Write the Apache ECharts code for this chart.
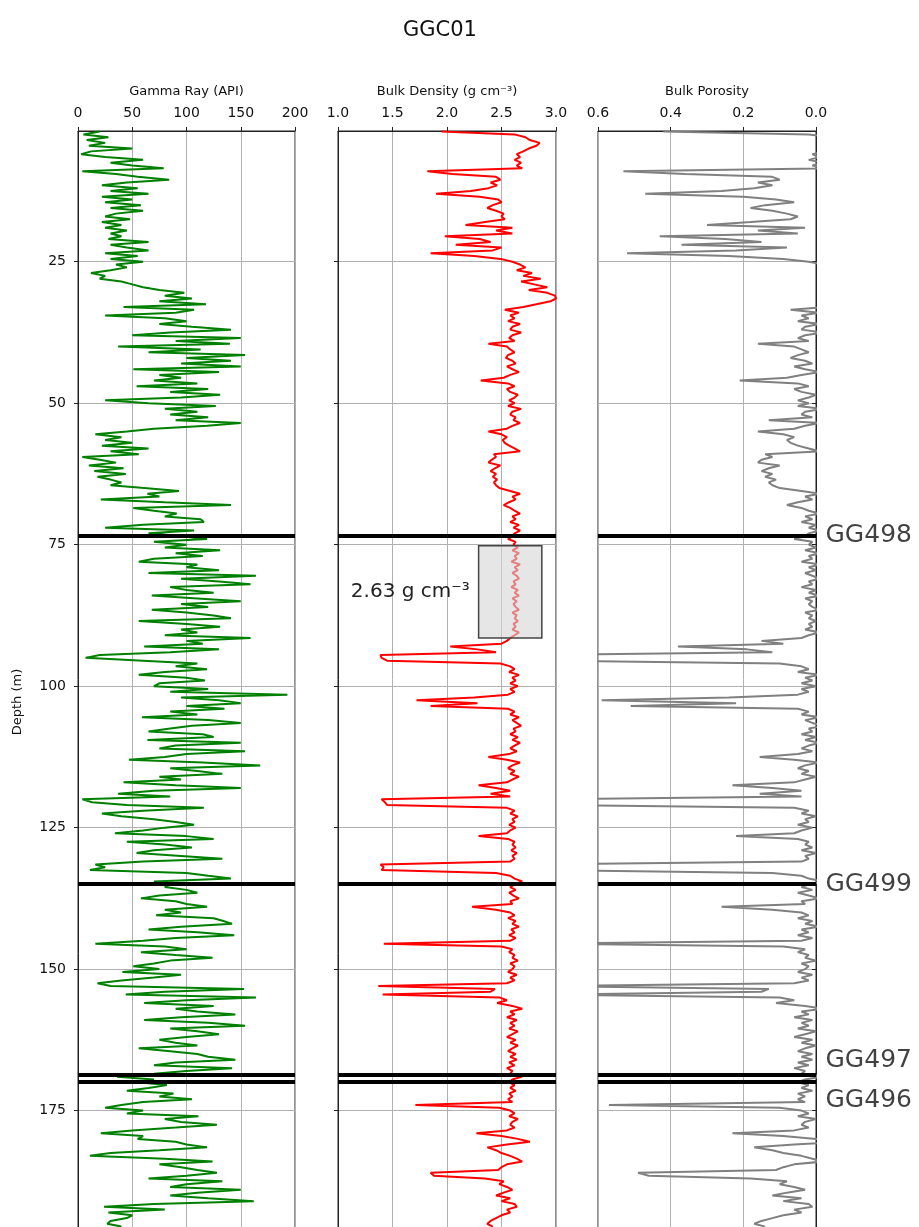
<!DOCTYPE html>
<html>
<head>
<meta charset="utf-8">
<title>GGC01</title>
<script src="https://cdn.jsdelivr.net/npm/echarts@6.0.0/dist/echarts.min.js"></script>
<style>
  html, body { margin: 0; padding: 0; background: #fff; }
  #chart { width: 919px; height: 1227px; }
</style>
</head>
<body>
<div id="chart"></div>
<script>
// log samples every 0.5 m, starting at 2.0 m
const depthStart = 2.0;
const depthStep = 0.5;

// Gamma ray (API)
const gammaRay = [
  20, 5, 28, 8, 25, 10, 50, 12, 3, 25,          // 2.0
  60, 30, 50, 79, 4, 35, 55, 84, 45, 22,        // 7.0
  55, 30, 65, 22, 50, 25, 58, 30, 60, 35,       // 12.0
  25, 48, 22, 40, 25, 45, 30, 40, 28, 65,       // 17.0
  30, 45, 65, 25, 55, 30, 60, 35, 45, 30,       // 22.0
  12, 25, 20, 40, 50, 60, 75, 98, 80, 105,      // 27.0
  75, 118, 42, 107, 90, 25, 80, 100, 75, 105,   // 32.0
  141, 85, 50, 150, 90, 140, 37, 113, 65, 154,  // 37.0
  100, 141, 95, 150, 51, 130, 75, 95, 70, 110,  // 42.0
  54, 120, 85, 131, 95, 25,                     // 47.0
  65, 127, 80, 110, 85, 120, 90, 150, 119, 70,  // 50.0
  45, 16, 40, 25, 50, 22, 65, 30, 56, 4,        // 55.0
  20, 35, 10, 42, 15, 44, 18, 30, 40, 30,       // 60.0
  61, 93, 64, 75, 21, 80, 141, 51, 70, 91,      // 65.0
  80, 113, 116, 60, 25, 107, 65, 95, 119, 70,   // 70.0
  100, 80, 131, 90, 115, 70, 56, 110, 100, 130, // 75.0
  65, 164, 95, 130, 159, 85, 100, 125, 68, 110, // 80.0
  150, 95, 120, 68, 100, 125, 141, 56, 100, 131,// 85.0
  95, 110, 80, 159, 100, 115, 61, 130, 85, 20,  // 90.0
  7, 60, 110, 90, 119, 80, 56, 100, 117, 75,    // 95.0
  70, 120, 85, 193, 95, 130, 150, 100, 135, 85, // 100.0
  110, 59, 120, 150, 105, 85, 65, 115, 125, 64, // 105.0
  150, 90, 75, 154, 100, 80, 47, 115, 168, 85,  // 110.0
  110, 133, 75, 95, 42, 90, 150, 70, 37, 85,    // 115.0
  4, 13, 45, 116, 60, 22, 40, 70, 90, 107,      // 120.0
  80, 60, 34, 100, 125, 45, 80, 105, 70, 54,    // 125.0
  95, 133, 60, 16, 25, 11, 100, 120, 141, 70,   // 130.0
  85, 80, 100, 110, 75, 58, 90, 100, 119, 80,   // 135.0
  95, 72, 125, 134, 142, 95, 65, 110, 144, 90,  // 140.0
  60, 16, 80, 100, 58, 90, 124, 85, 70, 51,     // 145.0
  75, 41, 95, 70, 40, 18, 30, 153, 80, 44,      // 150.0
  164, 100, 61, 125, 90, 110, 145, 95, 61, 120, // 155.0
  154, 85, 110, 130, 100, 75, 90, 110, 56, 85,  // 160.0
  110, 120, 145, 90, 70, 142, 100, 70, 36, 70,  // 165.0
  55, 82, 65, 45, 88, 75, 105, 60, 40, 25,      // 170.0
  60, 45, 111, 80, 95, 128, 90, 50, 21, 60,     // 175.0
  55, 90, 100, 119, 75, 30, 11, 80, 124, 75,    // 180.0
  95, 110, 128, 100, 65, 133, 100, 85, 150, 110,// 185.0
  85, 120, 162, 70, 24, 80, 28, 50, 45, 30,     // 190.0
  27, 40                                        // 195.0
];

// Bulk density (g cm-3)
const bulkDensity = [
  1.95, 2.62, 2.72, 2.76, 2.85, 2.82, 2.75, 2.70, 2.64, 2.67, // 2.0
  2.62, 2.68, 2.64, 2.69, 1.82, 2.05, 2.45, 2.49, 2.40, 2.46, // 7.0
  2.38, 2.22, 1.90, 2.30, 2.47, 2.50, 2.42, 2.37, 2.45, 2.52, // 12.0
  2.50, 2.53, 2.35, 2.17, 2.60, 2.45, 2.60, 1.98, 2.30, 2.40, // 17.0
  2.08, 2.50, 2.42, 1.85, 2.25, 2.49, 2.60, 2.67, 2.72, 2.64, // 22.0
  2.78, 2.70, 2.86, 2.68, 2.80, 2.92, 2.75, 2.92, 2.99, 3.00, // 27.0
  2.95, 2.82, 2.70, 2.53, 2.66, 2.58, 2.62, 2.56, 2.67, 2.60, // 32.0
  2.58, 2.68, 2.60, 2.57, 2.62, 2.38, 2.55, 2.58, 2.62, 2.56, // 37.0
  2.54, 2.60, 2.63, 2.55, 2.60, 2.66, 2.58, 2.52, 2.31, 2.56, // 42.0
  2.62, 2.55, 2.58, 2.65, 2.62, 2.57,                         // 47.0
  2.62, 2.56, 2.68, 2.60, 2.58, 2.63, 2.61, 2.67, 2.60, 2.55, // 50.0
  2.38, 2.50, 2.55, 2.51, 2.53, 2.57, 2.62, 2.67, 2.43, 2.45, // 55.0
  2.41, 2.38, 2.49, 2.44, 2.40, 2.45, 2.42, 2.46, 2.43, 2.45, // 60.0
  2.48, 2.58, 2.67, 2.60, 2.63, 2.57, 2.52, 2.58, 2.62, 2.67, // 65.0
  2.60, 2.63, 2.58, 2.66, 2.61, 2.67, 2.62, 2.60, 2.56, 2.63, // 70.0
  2.61, 2.65, 2.60, 2.66, 2.62, 2.64, 2.59, 2.67, 2.62, 2.65, // 75.0
  2.60, 2.64, 2.66, 2.61, 2.63, 2.59, 2.65, 2.62, 2.66, 2.60, // 80.0
  2.64, 2.61, 2.63, 2.66, 2.60, 2.64, 2.62, 2.65, 2.61, 2.63, // 85.0
  2.60, 2.66, 2.62, 2.58, 2.55, 2.50, 2.03, 2.28, 2.45, 1.39, // 90.0
  1.40, 1.45, 2.49, 2.58, 2.62, 2.57, 2.66, 2.60, 2.63, 2.58, // 95.0
  2.65, 2.58, 2.62, 2.56, 2.25, 1.72, 2.28, 1.85, 2.56, 2.62, // 100.0
  2.58, 2.66, 2.60, 2.64, 2.68, 2.61, 2.63, 2.58, 2.65, 2.60, // 105.0
  2.67, 2.62, 2.58, 2.64, 2.57, 2.38, 2.55, 2.67, 2.60, 2.56, // 110.0
  2.62, 2.58, 2.66, 2.60, 2.55, 2.29, 2.45, 2.58, 2.40, 2.58, // 115.0
  1.40, 1.43, 1.45, 2.55, 2.62, 2.58, 2.65, 2.60, 2.62, 2.57, // 120.0
  2.63, 2.58, 2.55, 2.29, 2.56, 2.62, 2.60, 2.63, 2.59, 2.64, // 125.0
  2.60, 2.62, 2.58, 1.39, 1.42, 1.40, 2.45, 2.58, 2.62, 2.69, // 130.0
  2.62, 2.58, 2.63, 2.57, 2.61, 2.66, 2.58, 2.60, 2.23, 2.45, // 135.0
  2.58, 2.62, 2.56, 2.63, 2.60, 2.66, 2.59, 2.62, 2.57, 2.63, // 140.0
  2.58, 1.42, 2.50, 2.60, 2.57, 2.62, 2.60, 2.65, 2.58, 2.62, // 145.0
  2.60, 2.56, 2.64, 2.58, 2.62, 2.55, 1.37, 2.44, 2.40, 1.41, // 150.0
  2.48, 2.55, 2.46, 2.60, 2.69, 2.58, 2.62, 2.55, 2.64, 2.58, // 155.0
  2.62, 2.57, 2.65, 2.60, 2.55, 2.63, 2.58, 2.65, 2.60, 2.56, // 160.0
  2.63, 2.58, 2.64, 2.57, 2.62, 2.55, 2.60, 2.58, 2.69, 2.60, // 165.0
  2.57, 2.62, 2.58, 2.63, 2.57, 2.60, 2.56, 2.60, 1.71, 2.48, // 170.0
  2.58, 2.62, 2.57, 2.65, 2.60, 2.58, 2.62, 2.55, 2.27, 2.50, // 175.0
  2.65, 2.76, 2.55, 2.37, 2.45, 2.50, 2.58, 2.64, 2.69, 2.55, // 180.0
  2.50, 2.47, 1.85, 1.88, 2.35, 2.52, 2.48, 2.55, 2.60, 2.52, // 185.0
  2.45, 2.58, 2.50, 2.62, 2.64, 2.55, 2.58, 2.50, 2.45, 2.40, // 190.0
  2.37, 2.42                                                  // 195.0
];

// Bulk porosity (fraction)
const bulkPorosity = [
  0.42, 0.02, -0.04, -0.07, -0.12, -0.10, -0.06, -0.03, 0.01, -0.01, // 2.0
  0.02, -0.02, 0.01, -0.03, 0.53, 0.36, 0.12, 0.10, 0.16, 0.12,      // 7.0
  0.17, 0.26, 0.47, 0.20, 0.11, 0.06, 0.14, 0.18, 0.12, 0.08,        // 12.0
  0.05, 0.07, 0.18, 0.30, 0.03, 0.16, 0.05, 0.43, 0.25, 0.15,        // 17.0
  0.37, 0.08, 0.22, 0.52, 0.24, 0.09, 0.02, -0.02, -0.04, -0.01,     // 22.0
  -0.08, -0.03, -0.13, -0.02, -0.09, -0.16, -0.06, -0.16, -0.20, -0.21, // 27.0
  -0.18, -0.10, -0.03, 0.07, -0.01, 0.04, 0.02, 0.05, -0.01, 0.03,   // 32.0
  0.04, -0.02, 0.03, 0.05, 0.02, 0.16, 0.06, 0.04, 0.02, 0.05,       // 37.0
  0.07, 0.03, 0.01, 0.06, 0.03, -0.01, 0.04, 0.08, 0.21, 0.05,       // 42.0
  0.02, 0.06, 0.04, 0.00, 0.02, 0.05,                                // 47.0
  0.02, 0.05, -0.02, 0.03, 0.04, 0.01, 0.13, -0.01, 0.03, 0.06,      // 50.0
  0.16, 0.09, 0.06, 0.08, 0.07, 0.05, 0.02, -0.01, 0.14, 0.12,       // 55.0
  0.15, 0.16, 0.10, 0.13, 0.15, 0.12, 0.14, 0.11, 0.13, 0.12,        // 60.0
  0.10, 0.04, -0.01, 0.03, 0.01, 0.05, 0.08, 0.04, 0.02, -0.01,      // 65.0
  0.03, 0.01, 0.04, 0.00, 0.02, -0.01, 0.02, 0.03, 0.06, 0.01,       // 70.0
  0.02, 0.00, 0.03, -0.01, 0.02, 0.01, 0.04, -0.01, 0.02, 0.00,      // 75.0
  0.03, 0.01, -0.01, 0.02, 0.01, 0.04, 0.00, 0.02, -0.01, 0.03,      // 80.0
  0.01, 0.02, 0.01, -0.01, 0.03, 0.01, 0.02, 0.00, 0.02, 0.01,       // 85.0
  0.03, -0.01, 0.02, 0.04, 0.15, 0.09, 0.38, 0.19, 0.12, 0.76,       // 90.0
  0.75, 0.72, 0.10, 0.04, 0.02, 0.05, -0.01, 0.03, 0.01, 0.04,       // 95.0
  0.00, 0.04, 0.02, 0.05, 0.24, 0.59, 0.22, 0.51, 0.05, 0.02,        // 100.0
  0.04, -0.01, 0.03, 0.01, -0.02, 0.02, 0.01, 0.04, 0.00, 0.03,      // 105.0
  -0.01, 0.02, 0.04, 0.01, 0.05, 0.155, 0.06, -0.01, 0.03, 0.05,     // 110.0
  0.02, 0.04, 0.00, 0.03, 0.06, 0.23, 0.12, 0.04, 0.155, 0.04,       // 115.0
  0.75, 0.74, 0.72, 0.06, 0.02, 0.04, 0.00, 0.03, 0.02, 0.05,        // 120.0
  0.01, 0.04, 0.06, 0.22, 0.05, 0.02, 0.03, 0.01, 0.04, 0.00,        // 125.0
  0.03, 0.02, 0.04, 0.76, 0.74, 0.75, 0.12, 0.04, 0.02, -0.02,       // 130.0
  0.02, 0.04, 0.01, 0.05, 0.02, -0.01, 0.04, 0.03, 0.26, 0.12,       // 135.0
  0.04, 0.02, 0.05, 0.01, 0.03, -0.01, 0.04, 0.02, 0.05, 0.01,       // 140.0
  0.04, 0.74, 0.09, 0.03, 0.05, 0.02, 0.03, 0.00, 0.04, 0.02,        // 145.0
  0.03, 0.05, 0.01, 0.04, 0.02, 0.06, 0.77, 0.13, 0.15, 0.75,        // 150.0
  0.10, 0.06, 0.11, 0.03, -0.02, 0.04, 0.02, 0.06, 0.01, 0.04,       // 155.0
  0.02, 0.05, 0.00, 0.03, 0.06, 0.01, 0.04, 0.00, 0.03, 0.05,        // 160.0
  0.01, 0.04, 0.01, 0.05, 0.02, 0.06, 0.03, 0.04, -0.02, 0.03,       // 165.0
  0.05, 0.02, 0.04, 0.01, 0.05, 0.03, 0.05, 0.03, 0.57, 0.10,        // 170.0
  0.04, 0.02, 0.05, 0.00, 0.03, 0.04, 0.02, 0.06, 0.23, 0.09,        // 175.0
  0.00, -0.07, 0.06, 0.17, 0.12, 0.09, 0.04, 0.01, -0.02, 0.06,      // 180.0
  0.09, 0.11, 0.49, 0.46, 0.18, 0.08, 0.10, 0.06, 0.03, 0.08,        // 185.0
  0.12, 0.04, 0.09, 0.02, 0.01, 0.06, 0.04, 0.09, 0.12, 0.15,        // 190.0
  0.17, 0.14                                                         // 195.0
];

// formation tops
const topDepths = [73.4, 135.0, 168.6, 169.9];
const topNames = ['GG498', 'GG499', 'GG497', 'GG496'];

// averaged density window
const boxDepth = [75.2, 91.5];
const boxDensity = [2.29, 2.87];
const meanDensity = 2.63;

const depthTicks = [25, 50, 75, 100, 125, 150, 175, 200];

const depth = gammaRay.map((_, i) => +(depthStart + i * depthStep).toFixed(1));
const pairs = (vals) => vals.map((v, i) => [v, depth[i]]);

const FONT = 'DejaVu Sans';
const gridTop = 131;
const gridHeight = 1142;
const panels = [
  { left: 78, width: 217 },
  { left: 338, width: 218 },
  { left: 598, width: 218 }
];

const chart = echarts.init(document.getElementById('chart'), null, { renderer: 'canvas' });

const gridLine = { show: true, lineStyle: { color: '#b0b0b0', width: 1 } };

const makeX = (i, min, max, interval, name, inverse) => ({
  type: 'value',
  gridIndex: i,
  position: 'top',
  min: min,
  max: max,
  interval: interval,
  inverse: !!inverse,
  name: name,
  nameLocation: 'middle',
  nameGap: 33,
  nameTextStyle: { fontFamily: FONT, fontSize: 13, color: '#111' },
  axisLine: { show: true, lineStyle: { color: '#222', width: 1 } },
  axisTick: { show: true, length: 4, lineStyle: { color: '#222' } },
  axisLabel: {
    fontFamily: FONT, fontSize: 14, color: '#111', margin: 11,
    formatter: (v) => (interval < 1 ? v.toFixed(1) : String(v))
  },
  splitLine: gridLine
});

const makeY = (i, withLabels) => ({
  type: 'value',
  gridIndex: i,
  inverse: true,
  min: 1.9,
  max: 203.7,
  name: withLabels ? 'Depth (m)' : '',
  nameLocation: 'middle',
  nameGap: 54,
  nameTextStyle: { fontFamily: FONT, fontSize: 13, color: '#111' },
  axisLine: { show: true, lineStyle: { color: '#222', width: 1 } },
  axisTick: { show: true, length: 4, customValues: depthTicks, lineStyle: { color: '#222' } },
  axisLabel: {
    show: withLabels, customValues: depthTicks,
    fontFamily: FONT, fontSize: 14, color: '#111', margin: 12
  },
  splitLine: gridLine
});

const topLines = {
  silent: true,
  symbol: 'none',
  label: { show: false },
  lineStyle: { color: '#000', width: 4, type: 'solid' },
  data: topDepths.map((d) => ({ yAxis: d }))
};

const logSeries = (i, vals, color) => ({
  type: 'line',
  xAxisIndex: i,
  yAxisIndex: i,
  data: pairs(vals),
  showSymbol: false,
  symbol: 'none',
  lineStyle: { color: color, width: 2 },
  clip: true,
  animation: false,
  markLine: topLines,
  z: 2
});

const option = {
  backgroundColor: '#fff',
  animation: false,
  title: {
    text: 'GGC01',
    left: 398,
    top: 15,
    textStyle: { fontFamily: FONT, fontSize: 21, fontWeight: 'normal', color: '#111' }
  },
  grid: panels.map((p) => ({
    left: p.left, width: p.width, top: gridTop, height: gridHeight,
    outerBoundsMode: 'none',
    containLabel: false,
    show: true, borderColor: '#222', borderWidth: 1, backgroundColor: 'transparent'
  })),
  xAxis: [
    makeX(0, 0, 200, 50, 'Gamma Ray (API)'),
    makeX(1, 1, 3, 0.5, 'Bulk Density (g cm\u207B\u00B3)'),
    makeX(2, 0, 0.6, 0.2, 'Bulk Porosity', true)
  ],
  yAxis: [makeY(0, true), makeY(1, false), makeY(2, false)],
  series: [
    logSeries(0, gammaRay, '#008000'),
    logSeries(1, bulkDensity, '#ff0000'),
    logSeries(2, bulkPorosity, '#808080'),
    {
      // shaded window with the mean density label
      type: 'line',
      xAxisIndex: 1,
      yAxisIndex: 1,
      data: [],
      z: 6,
      markArea: {
        silent: true,
        z: 10,
        itemStyle: { color: 'rgba(214,214,214,0.6)', borderColor: '#444', borderWidth: 1.5 },
        label: {
          show: true,
          position: 'left',
          distance: 8,
          formatter: meanDensity.toFixed(2) + ' g cm\u207B\u00B3',
          fontFamily: FONT, fontSize: 20, color: '#222'
        },
        data: [[
          { coord: [boxDensity[0], boxDepth[0]] },
          { coord: [boxDensity[1], boxDepth[1]] }
        ]]
      }
    },
    {
      // formation names to the right of the porosity track
      type: 'scatter',
      xAxisIndex: 2,
      yAxisIndex: 2,
      symbolSize: 1,
      itemStyle: { color: 'rgba(0,0,0,0)' },
      silent: true,
      data: topDepths.map((d, i) => ({
        value: [0, d],
        name: topNames[i],
        label: { offset: [0, topNames[i] === 'GG497' ? -14 : (topNames[i] === 'GG496' ? 19 : 0)] }
      })),
      label: {
        show: true,
        position: 'right',
        distance: 9,
        formatter: '{b}',
        fontFamily: FONT, fontSize: 25, color: '#111'
      },
      z: 7
    }
  ]
};

chart.setOption(option);
</script>
</body>
</html>
